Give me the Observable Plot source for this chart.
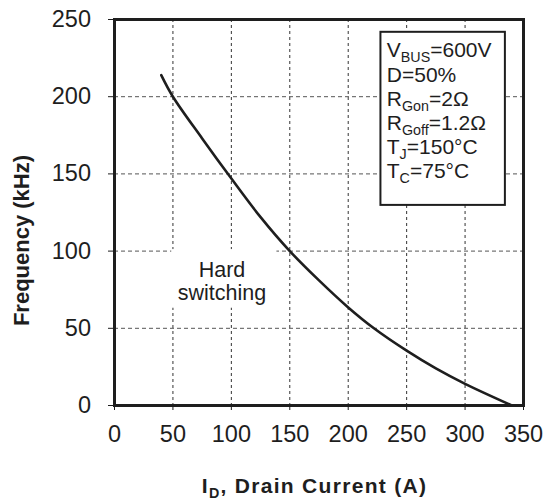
<!DOCTYPE html>
<html>
<head>
<meta charset="utf-8">
<script src="https://cdn.jsdelivr.net/npm/d3@7"></script>
<script src="https://cdn.jsdelivr.net/npm/@observablehq/plot@0.6"></script>
<style>
  html, body { margin: 0; padding: 0; background: #fff; }
  #chart { width: 546px; height: 500px; }
</style>
</head>
<body>
<div id="chart"></div>
<script>
// Curve data: drain current (A) vs frequency (kHz)
const current   = [40, 50, 75, 100, 125, 150, 175, 200, 222, 250, 275, 300, 340];
const frequency = [214, 200, 173, 147, 122, 100, 81, 63.5, 50, 35.5, 24, 14, 0];

// Axis ticks
const xTicks = [0, 50, 100, 150, 200, 250, 300, 350];
const yTicks = [0, 50, 100, 150, 200, 250];
const xGrid = [50, 100, 150, 200, 250, 300];
const yGrid = [50, 100, 150, 200];

// Condition box (annotation)
const boxLines = ["V_{BUS}=600V", "D=50%", "R_{Gon}=2Ω", "R_{Goff}=1.2Ω", "T_{J}=150°C", "T_{C}=75°C"];
const boxLineY = [225.8, 209.8, 194, 178.2, 162.6, 147.6];
const boxX = [228, 334.5];
const boxY = [129.6, 241.7];
const boxTextX = 233;

// "Hard switching" label and its background gap
const regionLabel = ["Hard\nswitching"];
const regionLabelPos = [92, 80.5];
const gapX = [49, 139];
const gapY = [63, 101];

const xLabel = "I_{D}, Drain Current (A)";
const yLabel = "Frequency (kHz)";

const curve = current.map((c, i) => ({x: c, y: frequency[i]}));
const box = [{x1: boxX[0], x2: boxX[1], y1: boxY[0], y2: boxY[1]}];
const gap = [{x1: gapX[0], x2: gapX[1], y1: gapY[0], y2: gapY[1]}];
const boxText = boxLines.map((t, i) => ({t, y: boxLineY[i]}));

const ink = "#1e1e1e";

const plot = Plot.plot({
  width: 546,
  height: 500,
  marginLeft: 114,
  marginRight: 23,
  marginTop: 19,
  marginBottom: 95,
  style: {fontFamily: "'Liberation Sans', Arial, sans-serif", fontSize: "21px", color: ink, background: "#fff"},
  x: {domain: [0, 350]},
  y: {domain: [0, 250]},
  marks: [
    Plot.gridX(xGrid, {stroke: "#333", strokeOpacity: 1, strokeWidth: 1, strokeDasharray: "3,3"}),
    Plot.gridY(yGrid, {stroke: "#555", strokeOpacity: 1, strokeWidth: 1, strokeDasharray: "4,3"}),
    Plot.rect(gap, {x1: "x1", x2: "x2", y1: "y1", y2: "y2", fill: "#fff"}),
    Plot.text(regionLabel, {x: () => regionLabelPos[0], y: () => regionLabelPos[1], text: d => d, fontSize: 21.5, lineHeight: 1.08, fill: ink, textAnchor: "middle"}),
    Plot.rect(box, {x1: "x1", x2: "x2", y1: "y1", y2: "y2", fill: "#fff", stroke: ink, strokeWidth: 2}),
    Plot.text(boxText, {x: () => boxTextX, y: "y", text: "t", textAnchor: "start", lineAnchor: "bottom", fontSize: 21, fill: ink}),
    Plot.line(curve, {x: "x", y: "y", curve: "catmull-rom", stroke: ink, strokeWidth: 2.6}),
    Plot.frame({stroke: ink, strokeWidth: 3}),
    Plot.axisX(xTicks, {tickSize: 5, tickPadding: 15, label: null, fontSize: 23.5, stroke: ink, fill: ink}),
    Plot.axisY(yTicks, {tickSize: 6, tickPadding: 17.5, label: null, fontSize: 23.5, stroke: ink, fill: ink}),
    Plot.text([xLabel], {frameAnchor: "bottom", text: d => d, textAnchor: "middle", dx: -4.5, dy: 87, lineAnchor: "bottom", fontWeight: "bold", fontSize: 21, fill: ink}),
    Plot.text([yLabel], {frameAnchor: "left", text: d => d, textAnchor: "middle", rotate: -90, dx: -85.6, dy: 28, lineAnchor: "bottom", fontWeight: "bold", fontSize: 22, fill: ink})
  ]
});

// Render subscripts written as _{...}
const ns = "http://www.w3.org/2000/svg";
plot.querySelectorAll("text").forEach(t => {
  if (t.children.length) return;
  const s = t.textContent;
  if (s === xLabel) t.setAttribute("letter-spacing", "1.3");
  if (!s.includes("_{")) return;
  const size = parseFloat(t.getAttribute("font-size")) || 21;
  t.textContent = "";
  let shifted = false;
  for (const p of s.split(/(_\{[^}]*\})/)) {
    if (!p) continue;
    const ts = document.createElementNS(ns, "tspan");
    if (p.startsWith("_{")) {
      ts.textContent = p.slice(2, -1);
      ts.setAttribute("font-size", (size * 0.68).toFixed(1));
      ts.setAttribute("dy", (size * 0.24).toFixed(1));
      shifted = true;
    } else {
      ts.textContent = p;
      if (shifted) { ts.setAttribute("dy", (-size * 0.24).toFixed(1)); shifted = false; }
    }
    t.appendChild(ts);
  }
});

document.getElementById("chart").appendChild(plot);
</script>
</body>
</html>
